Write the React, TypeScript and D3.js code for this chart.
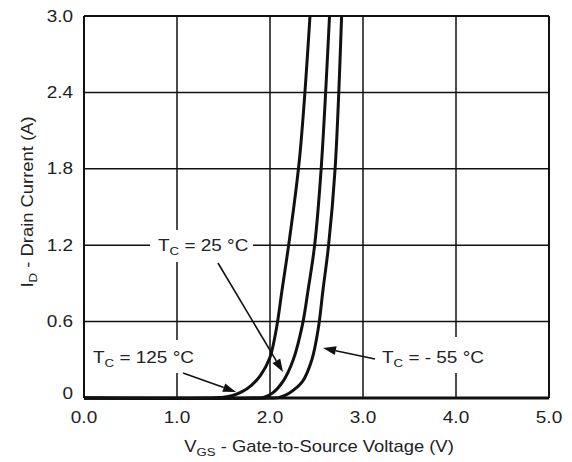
import React from "react";
import * as d3 from "d3";

const xTicks = [0, 1, 2, 3, 4, 5];
const xTickLabels = ["0.0", "1.0", "2.0", "3.0", "4.0", "5.0"];
const yTicks = [0, 0.6, 1.2, 1.8, 2.4, 3.0];
const yTickLabels = ["0", "0.6", "1.2", "1.8", "2.4", "3.0"];

// T_C = 125 °C
const v125 = [0, 1.3, 1.5, 1.6, 1.7, 1.8, 1.9, 2.0, 2.07, 2.13, 2.21, 2.32, 2.43];
const i125 = [0, 0, 0.005, 0.02, 0.05, 0.1, 0.18, 0.32, 0.55, 0.85, 1.25, 1.9, 3.0];
// T_C = 25 °C
const v25 = [0, 1.8, 1.93, 2.03, 2.14, 2.25, 2.35, 2.41, 2.48, 2.55, 2.64];
const i25 = [0, 0, 0.005, 0.04, 0.13, 0.3, 0.58, 0.85, 1.2, 1.8, 3.0];
// T_C = -55 °C
const vm55 = [0, 2.0, 2.1, 2.21, 2.35, 2.45, 2.52, 2.57, 2.63, 2.7, 2.77];
const im55 = [0, 0, 0.005, 0.04, 0.13, 0.3, 0.55, 0.85, 1.2, 1.8, 3.0];

const W = 572;
const H = 462;
const L = 84, R = 549, T = 16, B = 398;
const FONT = "'Liberation Sans', Arial, sans-serif";
const TXT = "#222";
const FS = 16.5;
const SX = 1.15;

export default function App() {
  const x = d3.scaleLinear().domain([0, 5]).range([L, R]);
  const y = d3.scaleLinear().domain([0, 3]).range([B, T]);
  const line = d3
    .line<[number, number]>()
    .x((d) => x(d[0]))
    .y((d) => Math.min(y(d[1]), B))
    .curve(d3.curveCatmullRom.alpha(0.5));
  const series = [
    v125.map((v, k) => [v, i125[k]] as [number, number]),
    v25.map((v, k) => [v, i25[k]] as [number, number]),
    vm55.map((v, k) => [v, im55[k]] as [number, number]),
  ];

  const arrow = (x1: number, y1: number, x2: number, y2: number, key: string) => {
    const ang = Math.atan2(y2 - y1, x2 - x1);
    const len = 13, hw = 4.5;
    const bx = x2 - len * Math.cos(ang), by = y2 - len * Math.sin(ang);
    const px = -Math.sin(ang) * hw, py = Math.cos(ang) * hw;
    return (
      <g key={key}>
        <line x1={x1} y1={y1} x2={bx} y2={by} stroke="#111" strokeWidth={1.6} />
        <polygon points={`${x2},${y2} ${bx + px},${by + py} ${bx - px},${by - py}`} fill="#111" />
      </g>
    );
  };

  const T_label = (xx: number, yy: number, rest: string, key: string) => (
    <g key={key} transform={`translate(${xx},${yy}) scale(${SX},1)`}>
      <text x={0} y={0} fontSize={FS} fill={TXT}>
        T<tspan fontSize={11.5} dy={4}>C</tspan>
        <tspan dy={-4}>{rest}</tspan>
      </text>
    </g>
  );

  return (
    <svg
      width={W}
      height={H}
      style={{ position: "absolute", left: 0, top: 0, background: "#fff" }}
      fontFamily={FONT}
    >
      <rect x={0} y={0} width={W} height={H} fill="#fff" />
      {/* grid */}
      {xTicks.slice(1, -1).map((t) => (
        <line key={"gx" + t} x1={x(t)} x2={x(t)} y1={T} y2={B} stroke="#111" strokeWidth={1.5} />
      ))}
      {yTicks.slice(1, -1).map((t) => (
        <line key={"gy" + t} x1={L} x2={R} y1={y(t)} y2={y(t)} stroke="#111" strokeWidth={1.5} />
      ))}
      {/* frame */}
      <line x1={L} x2={R} y1={T} y2={T} stroke="#111" strokeWidth={2} />
      <line x1={R} x2={R} y1={T} y2={B} stroke="#111" strokeWidth={2} />
      <line x1={L} x2={L} y1={T} y2={B} stroke="#111" strokeWidth={2} />

      {/* label backgrounds */}
      <rect x={150} y={230} width={103} height={32} fill="#fff" />
      <rect x={86} y={340} width={108} height={33} fill="#fff" />
      <rect x={378} y={337} width={112} height={36} fill="#fff" />

      {/* curves */}
      {series.map((s, k) => (
        <path key={"c" + k} d={line(s) || ""} fill="none" stroke="#111" strokeWidth={3} />
      ))}
      <line x1={L} x2={R} y1={B} y2={B} stroke="#111" strokeWidth={3} />

      {/* arrows */}
      {arrow(183, 373, 236, 392, "a125")}
      {arrow(218, 263, 283, 372, "a25")}
      {arrow(375, 359, 323, 348, "a55")}

      {/* annotation labels */}
      {T_label(158, 251, " = 25 °C", "l25")}
      {T_label(93, 363, " = 125 °C", "l125")}
      {T_label(382, 363, " = - 55 °C", "l55")}

      {/* tick labels */}
      {xTicks.map((t, k) => (
        <g key={"xt" + t} transform={`translate(${x(t)},423) scale(${SX},1)`}>
          <text x={0} y={0} fontSize={FS} textAnchor="middle" fill={TXT}>
            {xTickLabels[k]}
          </text>
        </g>
      ))}
      {yTicks.map((t, k) => (
        <g key={"yt" + t} transform={`translate(73,${y(t) + (t === 0 ? -5 : 0)}) scale(${SX},1)`}>
          <text x={0} y={0} fontSize={FS} textAnchor="end" dominantBaseline="central" fill={TXT}>
            {yTickLabels[k]}
          </text>
        </g>
      ))}

      {/* axis titles */}
      <g transform={`translate(319,452) scale(${SX},1)`}>
        <text x={0} y={0} fontSize={16} textAnchor="middle" fill={TXT}>
          V<tspan fontSize={11.5} dy={4}>GS</tspan>
          <tspan dy={-4}> - Gate-to-Source Voltage (V)</tspan>
        </text>
      </g>
      <g transform={`translate(33,202) rotate(-90) scale(${SX},1)`}>
        <text x={0} y={0} fontSize={16} textAnchor="middle" fill={TXT}>
          I<tspan fontSize={11.5} dy={4}>D</tspan>
          <tspan dy={-4}> - Drain Current (A)</tspan>
        </text>
      </g>
    </svg>
  );
}
